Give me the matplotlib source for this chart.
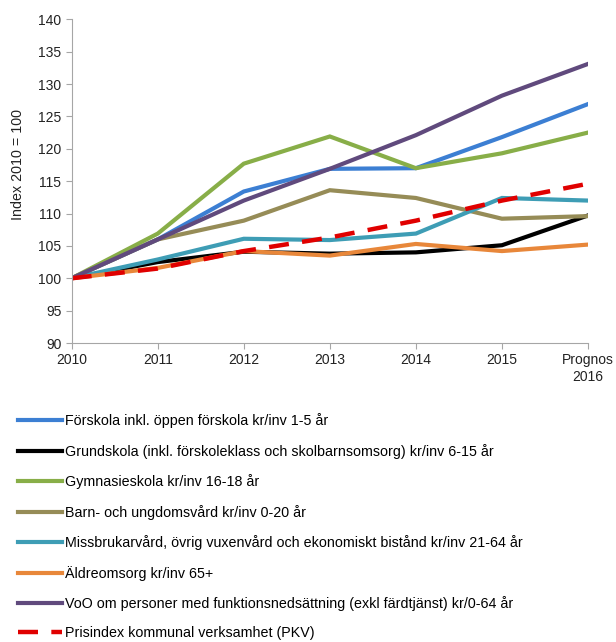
import matplotlib.pyplot as plt

plt.rcParams['font.family'] = ['Liberation Sans', 'DejaVu Sans']

# Kategorier (år) och indexvärden (2010 = 100)
years = ['2010', '2011', '2012', '2013', '2014', '2015', 'Prognos\n2016']

forskola = [100, 106.0, 113.4, 116.9, 117.0, 121.8, 126.9]
grundskola = [100, 102.5, 104.1, 103.8, 104.0, 105.1, 109.7]
gymnasieskola = [100, 106.9, 117.7, 121.9, 117.0, 119.3, 122.5]
barn_ungdom = [100, 106.0, 108.9, 113.6, 112.4, 109.2, 109.6]
missbruk = [100, 102.9, 106.1, 105.9, 106.9, 112.4, 112.0]
aldreomsorg = [100, 101.6, 104.2, 103.5, 105.3, 104.2, 105.2]
voo = [100, 106.0, 112.0, 116.9, 122.1, 128.2, 133.1]
pkv = [100, 101.5, 104.2, 106.3, 108.9, 112.0, 114.6]

labels = [
    'Förskola inkl. öppen förskola kr/inv 1-5 år',
    'Grundskola (inkl. förskoleklass och skolbarnsomsorg) kr/inv 6-15 år',
    'Gymnasieskola kr/inv 16-18 år',
    'Barn- och ungdomsvård kr/inv 0-20 år',
    'Missbrukarvård, övrig vuxenvård och ekonomiskt bistånd kr/inv 21-64 år',
    'Äldreomsorg kr/inv 65+',
    'VoO om personer med funktionsnedsättning (exkl färdtjänst) kr/0-64 år',
    'Prisindex kommunal verksamhet (PKV)',
]
series = [forskola, grundskola, gymnasieskola, barn_ungdom, missbruk, aldreomsorg, voo, pkv]
colors = ['#3C7FD3', '#000000', '#88AE48', '#968C57', '#3E9DB5', '#E8873A', '#604A7D', '#E00000']

fig = plt.figure(figsize=(6.16, 6.42), dpi=100)
ax = fig.add_axes([0.1164, 0.4657, 0.8381, 0.5043])

x = list(range(len(years)))
for vals, lab, col in zip(series, labels, colors):
    if col == '#E00000':
        ax.plot(x, vals, color=col, lw=3.2, ls=(0, (4.5, 3)), label=lab)
    else:
        ax.plot(x, vals, color=col, lw=3, label=lab, solid_joinstyle='miter')

ax.set_xlim(0, 6)
ax.set_ylim(90, 140)
ax.set_yticks(range(90, 141, 5))
ax.set_xticks(x)
ax.set_xticklabels(years)
ax.set_ylabel('Index 2010 = 100', fontsize=10.3, color='#222222')
ax.yaxis.set_label_coords(-0.09, 0.55)

for s in ['top', 'right']:
    ax.spines[s].set_visible(False)
for s in ['left', 'bottom']:
    ax.spines[s].set_color('#A6A6A6')
ax.tick_params(axis='both', colors='#A6A6A6', labelcolor='#222222', labelsize=10, length=4, direction='out')

fig.legend(loc='upper left', bbox_to_anchor=(0.02, 0.365), frameon=False, fontsize=10.3,
           handlelength=3.1, handletextpad=0.15, labelspacing=1.08, borderaxespad=0)

plt.savefig('out.png', dpi=100)
